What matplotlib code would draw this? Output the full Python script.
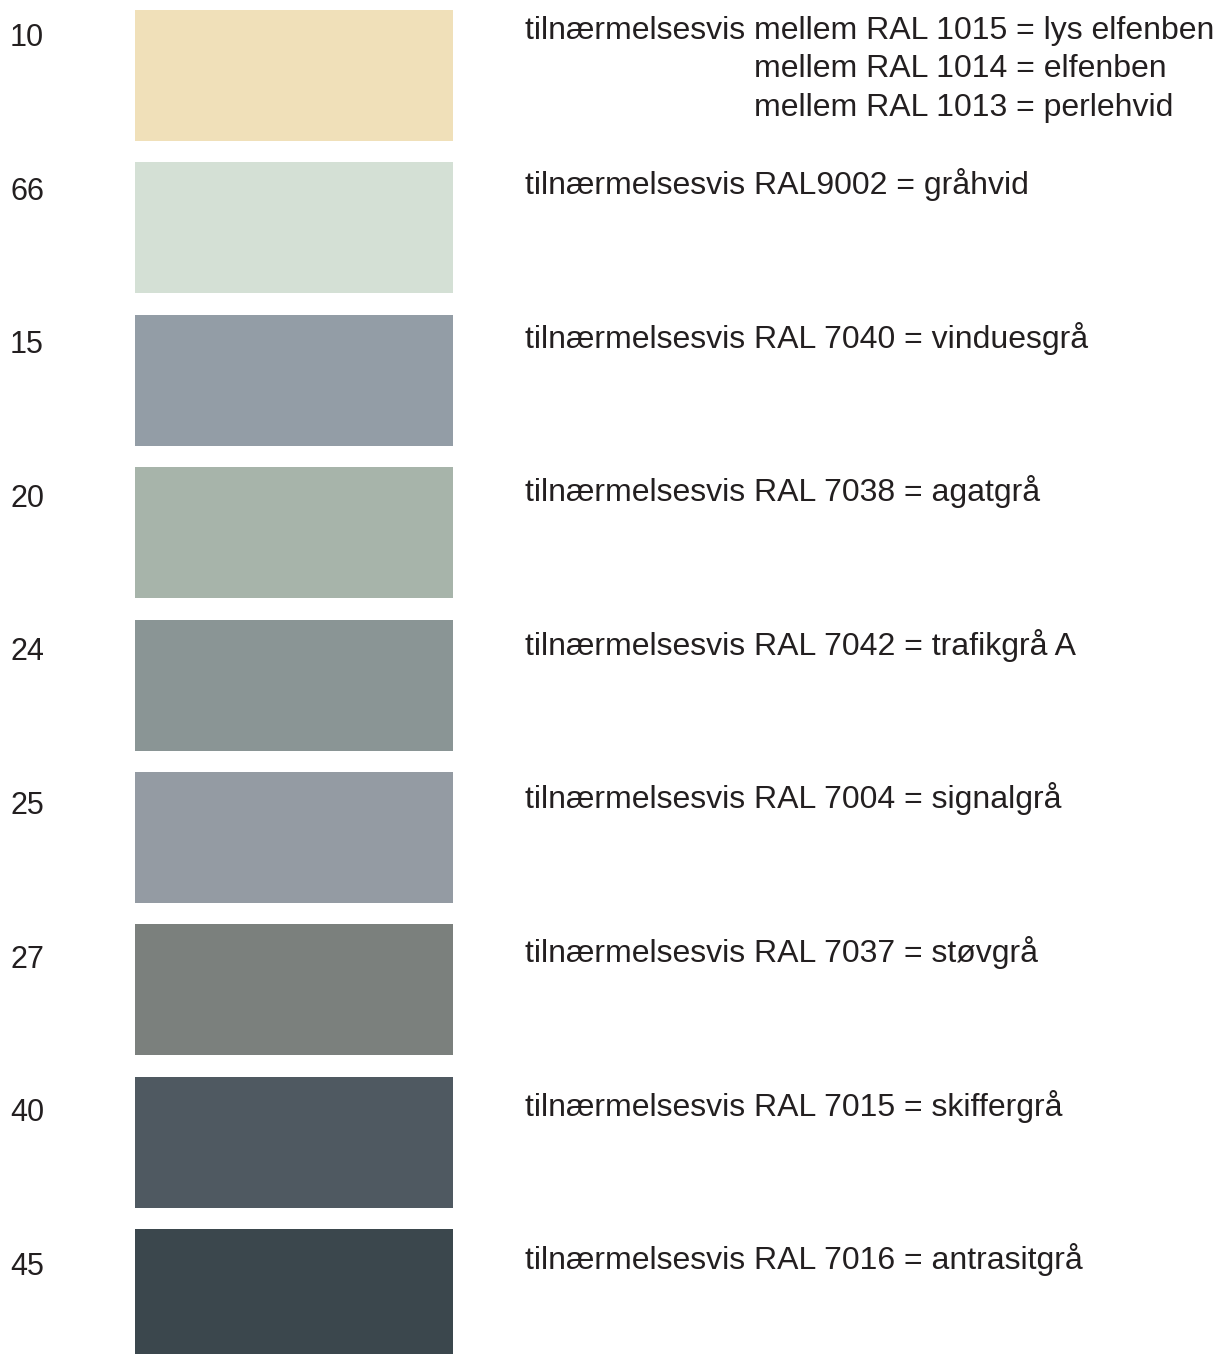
import matplotlib
matplotlib.use("Agg")
import matplotlib.pyplot as plt

codes = ["10", "66", "15", "20", "24", "25", "27", "40", "45"]
colors = ["#F0E0B9", "#D4E0D5", "#939DA6", "#A7B4AA", "#8A9595",
          "#949BA3", "#7B807D", "#4F5961", "#3B474D"]
descriptions = [
    ["tilnærmelsesvis mellem RAL 1015 = lys elfenben",
     "mellem RAL 1014 = elfenben",
     "mellem RAL 1013 = perlehvid"],
    ["tilnærmelsesvis RAL9002 = gråhvid"],
    ["tilnærmelsesvis RAL 7040 = vinduesgrå"],
    ["tilnærmelsesvis RAL 7038 = agatgrå"],
    ["tilnærmelsesvis RAL 7042 = trafikgrå A"],
    ["tilnærmelsesvis RAL 7004 = signalgrå"],
    ["tilnærmelsesvis RAL 7037 = støvgrå"],
    ["tilnærmelsesvis RAL 7015 = skiffergrå"],
    ["tilnærmelsesvis RAL 7016 = antrasitgrå"],
]

W, H = 1219, 1354
fig = plt.figure(figsize=(W / 100, H / 100), dpi=100)
ax = fig.add_axes([0, 0, 1, 1])
ax.set_xlim(0, W)
pitch = 152.4          # pixel distance between swatches
y0 = 75.5              # pixel centre of first swatch
ax.set_ylim((H - y0) / pitch, -y0 / pitch)
ax.axis("off")

def px2row(p):
    return (p - y0) / pitch

font = "Liberation Sans"
tc = "#231F20"
fs_txt = 23
fs_num = 22
bar_h = 131 / pitch
rows = list(range(len(codes)))
ax.barh(rows, [318] * len(rows), left=135, height=bar_h, color=colors)

text_step = 153.6
line_step = 38.5
fig.canvas.draw()
r = fig.canvas.get_renderer()
for i, (c, desc) in enumerate(zip(codes, descriptions)):
    ax.text(10, px2row(38 + text_step * i), c, fontsize=fs_num, family=font,
            color=tc, va="center", ha="left")
    yd = 31 + text_step * i
    ax.text(525, px2row(yd), desc[0], fontsize=fs_txt, family=font,
            color=tc, va="center", ha="left")
    if len(desc) > 1:
        probe = ax.text(525, 0, "tilnærmelsesvis ", fontsize=fs_txt,
                        family=font)
        wpx = probe.get_window_extent(renderer=r).width
        probe.remove()
        for k, line in enumerate(desc[1:], start=1):
            ax.text(525 + wpx, px2row(yd + k * line_step), line,
                    fontsize=fs_txt, family=font, color=tc, va="center",
                    ha="left")

fig.savefig("out.png", dpi=100, facecolor="white")
